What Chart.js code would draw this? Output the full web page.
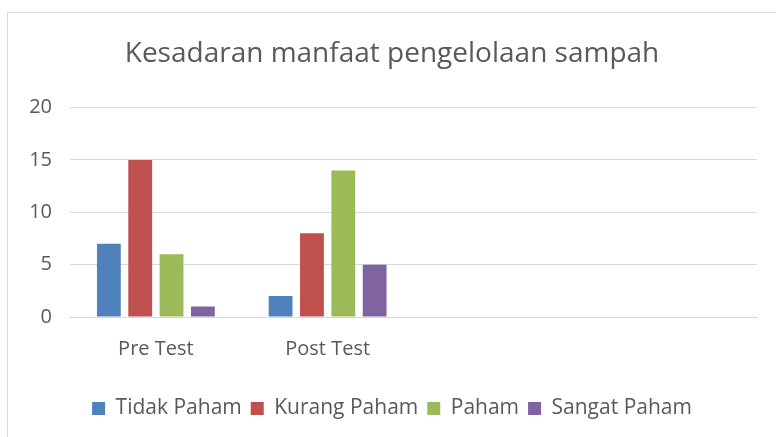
<!DOCTYPE html>
<html>
<head>
<meta charset="utf-8">
<script src="https://cdn.jsdelivr.net/npm/chart.js@4.4.0/dist/chart.umd.min.js"></script>
<style>
  body { margin: 0; background: #fff; }
  #frame { position: absolute; left: 7px; top: 12px; width: 769px; height: 425px; border-top: 1px solid #d9d9d9; border-left: 1px solid #d9d9d9; }
  #wrap { position: absolute; left: 0; top: 0; width: 776px; height: 437px; }
</style>
</head>
<body>
<div id="frame"></div>
<div id="wrap"><canvas id="chart" width="776" height="437"></canvas></div>
<script>
const categories = ["Pre Test", "Post Test", "", ""];
const tidakPaham = [7, 2, null, null];
const kurangPaham = [15, 8, null, null];
const paham = [6, 14, null, null];
const sangatPaham = [1, 5, null, null];
const yTicks = [0, 5, 10, 15, 20];

const ctx = document.getElementById("chart").getContext("2d");
const textColor = "#595959";
const fontName = "'Open Sans', 'Noto Sans', sans-serif";

const barOpts = { barPercentage: 0.76, categoryPercentage: 0.73 };

const barChart = new Chart(ctx, {
  type: "bar",
  data: {
    labels: categories,
    datasets: [
      { label: "Tidak Paham", data: tidakPaham, backgroundColor: "#4f81bd", ...barOpts },
      { label: "Kurang Paham", data: kurangPaham, backgroundColor: "#c0504d", ...barOpts },
      { label: "Paham", data: paham, backgroundColor: "#9bbb59", ...barOpts },
      { label: "Sangat Paham", data: sangatPaham, backgroundColor: "#8064a2", ...barOpts },
    ],
  },
  options: {
    responsive: false,
    animation: false,
    layout: { padding: { top: 37, left: 27, right: 19, bottom: 8 } },
    plugins: {
      title: {
        display: true,
        text: "Kesadaran manfaat pengelolaan sampah",
        color: textColor,
        font: { family: fontName, size: 28, weight: "normal" },
        padding: { top: 0, bottom: 37 },
      },
      legend: {
        position: "bottom",
        labels: {
          color: textColor,
          font: { family: fontName, size: 21 },
          boxWidth: 13,
          boxHeight: 13,
          padding: 9,
        },
      },
      tooltip: { enabled: false },
    },
    scales: {
      x: {
        grid: { display: false, drawTicks: false },
        border: { color: "#d9d9d9" },
        ticks: { color: textColor, font: { family: fontName, size: 20 }, padding: 20 },
        afterFit: (axis) => { axis.height = 72; },
      },
      y: {
        min: 0,
        max: 20,
        afterBuildTicks: (axis) => { axis.ticks = yTicks.map((v) => ({ value: v })); },
        afterFit: (axis) => { axis.width = 43; },
        grid: { color: "#d9d9d9", drawTicks: false },
        border: { display: false },
        ticks: { color: textColor, font: { family: fontName, size: 20 }, padding: 18 },
      },
    },
  },
});
</script>
</body>
</html>
